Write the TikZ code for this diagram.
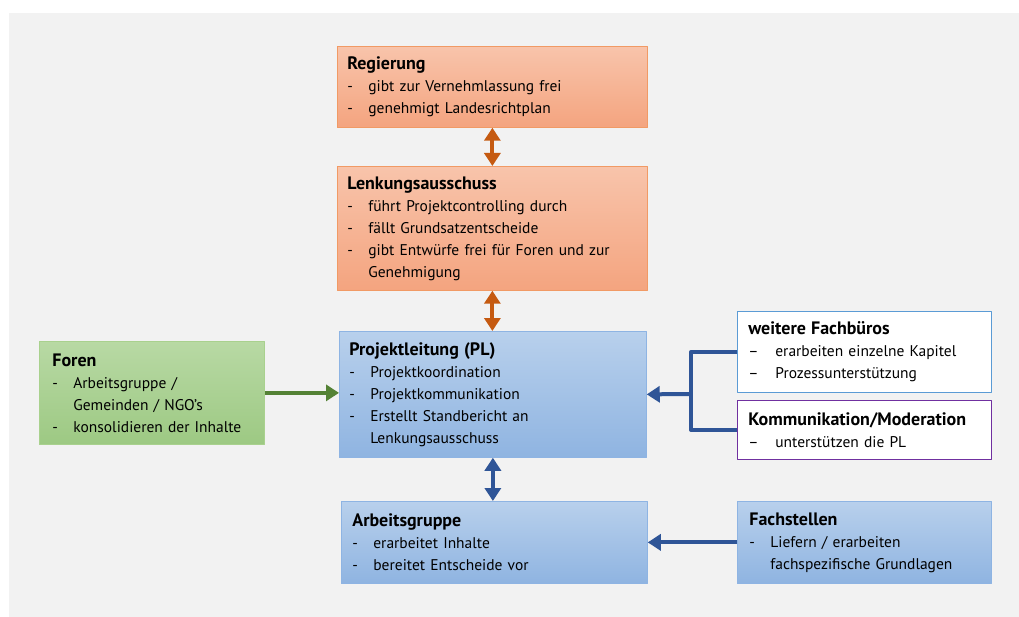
\documentclass[tikz,border=0pt]{standalone}
\usepackage{fontspec}
\setmainfont{PT Sans}
\usetikzlibrary{arrows.meta}
\definecolor{bggray}{HTML}{F2F2F2}
\definecolor{orTop}{HTML}{F8C4AB}
\definecolor{orBot}{HTML}{F4A47F}
\definecolor{orLine}{HTML}{F19A65}
\definecolor{orArr}{HTML}{C55A11}
\definecolor{blTop}{HTML}{B8D0EC}
\definecolor{blBot}{HTML}{8FB4E1}
\definecolor{blLine}{HTML}{8EB4E3}
\definecolor{blArr}{HTML}{2F5597}
\definecolor{grTop}{HTML}{B8D9A4}
\definecolor{grBot}{HTML}{9DC983}
\definecolor{grLine}{HTML}{A9D18E}
\definecolor{grArr}{HTML}{548235}
\definecolor{fbLine}{HTML}{5B9BD5}
\definecolor{kmLine}{HTML}{7030A0}
\newcommand{\bl}{\makebox[21pt][l]{-}}
\newcommand{\bld}{\makebox[27pt][l]{--}}
\newcommand{\cont}[1][21pt]{\hspace*{#1}}
\newcommand{\ttl}[1]{{\fontsize{18}{22}\selectfont\bfseries #1}}
\begin{document}
\begin{tikzpicture}[x=1pt, y=-1pt, font=\fontsize{15.5}{22}\selectfont, line join=round,
	box/.style={draw, line width=0.75pt, anchor=north west, align=left, inner xsep=10pt, inner ysep=0pt},
	orbox/.style={box, draw=orLine, top color=orTop, bottom color=orBot},
	blbox/.style={box, draw=blLine, top color=blTop, bottom color=blBot},
	grbox/.style={box, draw=grLine, top color=grTop, bottom color=grBot},
	whbox/.style={box, fill=white},
	arr/.style={line width=4pt, -{Triangle[width=16pt,length=13pt]}},
	dbl/.style={line width=4pt, {Triangle[width=16pt,length=13pt]}-{Triangle[width=16pt,length=13pt]}}]
	\useasboundingbox (0,0) rectangle (1019,617);
	\fill[bggray] (9,13) rectangle (1019,617);
	% orange boxes
	\node[orbox, text width=290pt, minimum height=81pt] (reg) at (337,46) {\ttl{Regierung}\\ \bl gibt zur Vernehmlassung frei\\ \bl genehmigt Landesrichtplan};
	\node[orbox, text width=290pt, minimum height=124pt] (lenk) at (337,166) {\ttl{Lenkungsausschuss}\\ \bl führt Projektcontrolling durch\\ \bl fällt Grundsatzentscheide\\ \bl gibt Entwürfe frei für Foren und zur\\ \cont Genehmigung};
	% blue boxes
	\node[blbox, text width=287pt, minimum height=126pt] (pl) at (339,331) {\ttl{Projektleitung (PL)}\\ \bl Projektkoordination\\ \bl Projektkommunikation\\ \bl Erstellt Standbericht an\\ \cont Lenkungsausschuss};
	\node[blbox, text width=284pt, minimum height=82pt, inner xsep=11pt] (ag) at (341,501) {\ttl{Arbeitsgruppe}\\ \bl erarbeitet Inhalte\\ \bl bereitet Entscheide vor};
	\node[blbox, text width=230pt, minimum height=82pt, inner xsep=12pt] (fs) at (737,501) {\ttl{Fachstellen}\\ \bl Liefern / erarbeiten\\ \cont fachspezifische Grundlagen};
	% side boxes
	\node[grbox, text width=199pt, minimum height=103pt, inner xsep=13pt] (foren) at (39,341) {\ttl{Foren}\\ \bl Arbeitsgruppe /\\ \cont Gemeinden / NGO's\\ \bl konsolidieren der Inhalte};
	\node[whbox, draw=fbLine, text width=232pt, minimum height=81pt, inner xsep=11pt] (fb) at (737,311) {\ttl{weitere Fachbüros}\\ \bld erarbeiten einzelne Kapitel\\ \bld Prozessunterstützung};
	\node[whbox, draw=kmLine, text width=232pt, minimum height=59pt, inner xsep=11pt] (km) at (737,400) {\ttl{Kommunikation/Moderation}\\ \bld unterstützen die PL};
	% connectors
	\draw[dbl, orArr] (reg.south) -- (lenk.north);
	\draw[dbl, orArr] (lenk.south) -- (lenk.south |- pl.north);
	\draw[dbl, blArr] (pl.south) -- (pl.south |- ag.north);
	\draw[arr, grArr] (foren.east) -- (foren.east -| pl.west);
	\coordinate (jn) at (691,394);
	\draw[line width=4pt, blArr] (fb.west) -| (jn) |- (km.west);
	\draw[arr, blArr] (jn) -- (pl.east);
	\draw[arr, blArr] (fs.west) -- (ag.east);
\end{tikzpicture}
\end{document}
